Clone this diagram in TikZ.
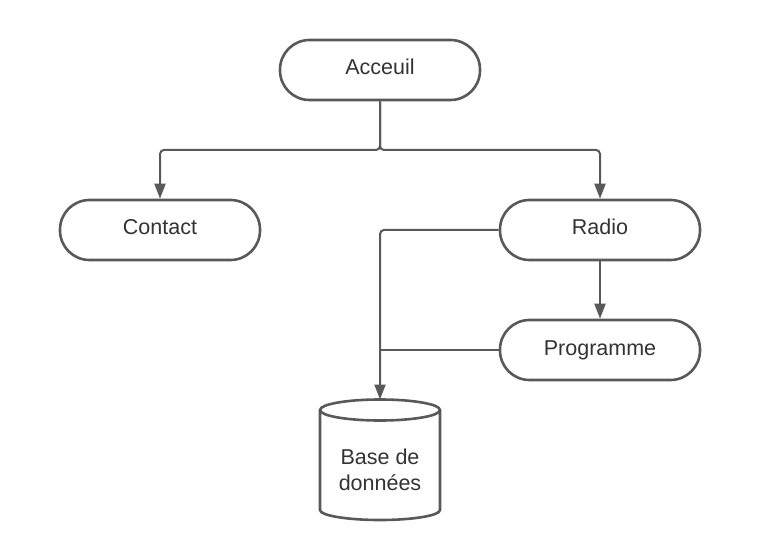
\documentclass[tikz,border=0pt]{standalone}
\usepackage{fontspec}
\setmainfont{Liberation Sans}
\usetikzlibrary{arrows.meta}
\definecolor{lc}{HTML}{595959}
\definecolor{tc}{HTML}{333333}
\begin{document}
\begin{tikzpicture}[x=1bp,y=-1bp,
  pill/.style={draw=lc, line width=2.6bp, fill=white, rectangle, rounded corners=29.5bp,
    minimum width=200bp, minimum height=60bp, inner sep=0pt, text=tc,
    text height=16bp, text depth=6bp,
    font=\fontsize{21.5bp}{26bp}\selectfont},
  conn/.style={draw=lc, line width=2bp, rounded corners=4bp},
  tip/.style={-{Triangle[length=15bp,width=11bp]}}
]
\useasboundingbox[fill=white] (0,0) rectangle (760,560);
\node[pill] (acc) at (380,70) {Acceuil};
\node[pill] (con) at (160,230) {Contact};
\node[pill] (rad) at (600,230) {Radio};
\node[pill] (pro) at (600,350) {Programme};
% cylinder
\draw[draw=lc, line width=2.6bp, fill=white]
  (320,410) -- (320,510) arc[start angle=180, end angle=0, x radius=60, y radius=10]
  -- (440,410) arc[start angle=0, end angle=-180, x radius=60, y radius=10.5] -- cycle;
\draw[draw=lc, line width=2.6bp] (320,410) arc[start angle=180, end angle=0, x radius=60, y radius=10.5];
\node[text=tc, align=center, font=\fontsize{21.5bp}{26bp}\selectfont, inner sep=0pt] (db) at (380,470) {Base de\\données};
\coordinate (dbtop) at (380,399.5);
\coordinate (split) at (380,150);
\coordinate (join) at (380,350);
% connectors
\draw[conn, tip] (acc.south) -- (split) -| (con.north);
\draw[conn, tip] (acc.south) -- (split) -| (rad.north);
\draw[conn, tip] (rad.south) -- (pro.north);
\draw[conn, tip] (rad.west) -| (dbtop);
\draw[conn] (pro.west) -- (join);
\end{tikzpicture}
\end{document}
